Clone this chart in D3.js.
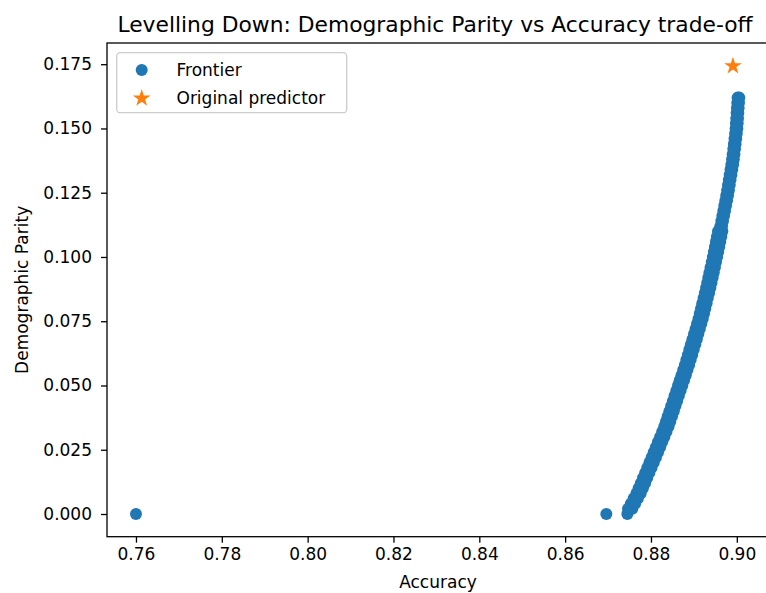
<!DOCTYPE html>
<html>
<head>
<meta charset="utf-8">
<script src="https://cdn.jsdelivr.net/npm/d3@7"></script>
<style>
  html, body { margin: 0; padding: 0; background: #fff; }
  svg { display: block; font-family: "DejaVu Sans", sans-serif; }
</style>
</head>
<body>
<svg id="chart" width="766" height="593"></svg>
<script>
// ---- Data ----
// Frontier: two isolated points, then the dense band read along its two edges.
const frontierAccuracy = [
  0.76000, 0.86960,
  0.87450, 0.87565, 0.87530, 0.87695, 0.87660, 0.87811, 0.87762, 0.87912, 0.87863, 0.88014,
  0.87965, 0.88115, 0.88064, 0.88213, 0.88162, 0.88312, 0.88261, 0.88410, 0.88350, 0.88490,
  0.88430, 0.88570, 0.88510, 0.88650, 0.88590, 0.88730, 0.88670, 0.88810, 0.88750, 0.88890,
  0.88825, 0.88961, 0.88896, 0.89032, 0.88967, 0.89103, 0.89038, 0.89173, 0.89107, 0.89237,
  0.89166, 0.89296, 0.89225, 0.89355, 0.89284, 0.89411, 0.89337, 0.89463, 0.89389, 0.89516,
  0.89442, 0.89567, 0.89491, 0.89615, 0.89538, 0.89662, 0.89616, 0.89679, 0.89663, 0.89726,
  0.89709, 0.89773, 0.89755, 0.89815, 0.89795, 0.89854, 0.89834, 0.89894, 0.89874, 0.89930,
  0.89904, 0.89958, 0.89932, 0.89986, 0.89960, 0.90012, 0.89980, 0.90028, 0.89995, 0.90043,
  0.90011, 0.90058,
  0.87465, 0.87630, 0.87595, 0.87760, 0.87711, 0.87862, 0.87812, 0.87963, 0.87914, 0.88065,
  0.88015, 0.88164, 0.88113, 0.88262, 0.88212, 0.88361, 0.88310, 0.88450, 0.88390, 0.88530,
  0.88470, 0.88610, 0.88550, 0.88690, 0.88630, 0.88770, 0.88710, 0.88850, 0.88790, 0.88925,
  0.88861, 0.88996, 0.88932, 0.89067, 0.89003, 0.89138, 0.89073, 0.89207, 0.89137, 0.89266,
  0.89196, 0.89325, 0.89255, 0.89384, 0.89311, 0.89437, 0.89363, 0.89489, 0.89416, 0.89542,
  0.89467, 0.89591, 0.89515, 0.89638, 0.89562, 0.89656, 0.89639, 0.89703, 0.89686, 0.89749,
  0.89733, 0.89795, 0.89775, 0.89835, 0.89814, 0.89874, 0.89854, 0.89914, 0.89890, 0.89944,
  0.89918, 0.89972, 0.89946, 0.90000, 0.89972, 0.90020, 0.89988, 0.90035, 0.90003, 0.90051,
  0.90018
];
const frontierParity = [
  0.000, 0.000,
  0.000, 0.002, 0.004, 0.006, 0.008, 0.010, 0.012, 0.014, 0.016, 0.018,
  0.020, 0.022, 0.024, 0.026, 0.028, 0.030, 0.032, 0.034, 0.036, 0.038,
  0.040, 0.042, 0.044, 0.046, 0.048, 0.050, 0.052, 0.054, 0.056, 0.058,
  0.060, 0.062, 0.064, 0.066, 0.068, 0.070, 0.072, 0.074, 0.076, 0.078,
  0.080, 0.082, 0.084, 0.086, 0.088, 0.090, 0.092, 0.094, 0.096, 0.098,
  0.100, 0.102, 0.104, 0.106, 0.108, 0.110, 0.112, 0.114, 0.116, 0.118,
  0.120, 0.122, 0.124, 0.126, 0.128, 0.130, 0.132, 0.134, 0.136, 0.138,
  0.140, 0.142, 0.144, 0.146, 0.148, 0.150, 0.152, 0.154, 0.156, 0.158,
  0.160, 0.162,
  0.002, 0.004, 0.006, 0.008, 0.010, 0.012, 0.014, 0.016, 0.018, 0.020,
  0.022, 0.024, 0.026, 0.028, 0.030, 0.032, 0.034, 0.036, 0.038, 0.040,
  0.042, 0.044, 0.046, 0.048, 0.050, 0.052, 0.054, 0.056, 0.058, 0.060,
  0.062, 0.064, 0.066, 0.068, 0.070, 0.072, 0.074, 0.076, 0.078, 0.080,
  0.082, 0.084, 0.086, 0.088, 0.090, 0.092, 0.094, 0.096, 0.098, 0.100,
  0.102, 0.104, 0.106, 0.108, 0.110, 0.112, 0.114, 0.116, 0.118, 0.120,
  0.122, 0.124, 0.126, 0.128, 0.130, 0.132, 0.134, 0.136, 0.138, 0.140,
  0.142, 0.144, 0.146, 0.148, 0.150, 0.152, 0.154, 0.156, 0.158, 0.160,
  0.162
];
const originalAccuracy = [0.8991];
const originalParity = [0.1743];

const xTicks = [0.76, 0.78, 0.80, 0.82, 0.84, 0.86, 0.88, 0.90];
const yTicks = [0.000, 0.025, 0.050, 0.075, 0.100, 0.125, 0.150, 0.175];

const seriesNames = ["Frontier", "Original predictor"];
const titleText = "Levelling Down: Demographic Parity vs Accuracy trade-off";
const xLabelText = "Accuracy";
const yLabelText = "Demographic Parity";

// ---- Layout ----
const BLUE = "#1f77b4", ORANGE = "#ff7f0e";
const mLeft = 107, mRight = 769, mTop = 43, mBottom = 536.7;
const FS = 17;

const svg = d3.select("#chart");
svg.append("rect").attr("width", 766).attr("height", 593).attr("fill", "#fff");

const x = d3.scaleLinear().domain([0.75325, 0.9075]).range([mLeft, mRight]);
const y = d3.scaleLinear().domain([-0.00883, 0.18325]).range([mBottom, mTop]);

const plot = svg.append("g");

// Frontier points
const frontier = frontierAccuracy.map((a, i) => ({ a, p: frontierParity[i] }));
plot.selectAll("circle.frontier").data(frontier).enter().append("circle")
  .attr("class", "frontier")
  .attr("cx", d => x(d.a)).attr("cy", d => y(d.p)).attr("r", 6)
  .attr("fill", BLUE);

// Original predictor star
const starPath = d3.symbol().type(d3.symbolStar).size(97)();
const orig = originalAccuracy.map((a, i) => ({ a, p: originalParity[i] }));
plot.selectAll("path.orig").data(orig).enter().append("path")
  .attr("class", "orig")
  .attr("d", starPath)
  .attr("transform", d => `translate(${x(d.a)},${y(d.p)})`)
  .attr("fill", ORANGE);

// Axes
const xAxis = d3.axisBottom(x).tickValues(xTicks).tickFormat(d3.format(".2f")).tickSize(6).tickPadding(5);
const yAxis = d3.axisLeft(y).tickValues(yTicks).tickFormat(d3.format(".3f")).tickSize(6).tickPadding(9);

const gx = svg.append("g").attr("transform", `translate(0,${mBottom})`).call(xAxis);
const gy = svg.append("g").attr("transform", `translate(${mLeft},0)`).call(yAxis);
[gx, gy].forEach(g => {
  g.select(".domain").remove();
  g.selectAll(".tick line").attr("stroke", "#000").attr("stroke-width", 1.3);
  g.selectAll(".tick text").attr("fill", "#000").attr("font-size", FS)
    .attr("font-family", "DejaVu Sans, sans-serif");
});

// Spines
svg.append("rect")
  .attr("x", mLeft).attr("y", mTop).attr("width", mRight - mLeft).attr("height", mBottom - mTop)
  .attr("fill", "none").attr("stroke", "#000").attr("stroke-width", 1.3);

// Title and labels
svg.append("text").attr("x", (mLeft + mRight) / 2 - 3).attr("y", 32.3)
  .attr("text-anchor", "middle").attr("font-size", 21.8).attr("fill", "#000").text(titleText);
svg.append("text").attr("x", (mLeft + mRight) / 2).attr("y", 588)
  .attr("text-anchor", "middle").attr("font-size", FS).attr("fill", "#000").text(xLabelText);
svg.append("text").attr("transform", `translate(27.5,${(mTop + mBottom) / 2}) rotate(-90)`)
  .attr("text-anchor", "middle").attr("font-size", FS).attr("fill", "#000").text(yLabelText);

// Legend
const lg = svg.append("g");
lg.append("rect").attr("x", 116.7).attr("y", 52.7).attr("width", 230).attr("height", 60)
  .attr("rx", 3.5).attr("fill", "#fff").attr("fill-opacity", 0.8)
  .attr("stroke", "#cccccc").attr("stroke-width", 1.3);
const legendY = [70, 98.3];
lg.append("circle").attr("cx", 141.7).attr("cy", legendY[0]).attr("r", 6).attr("fill", BLUE);
lg.append("path").attr("d", starPath).attr("transform", `translate(141.7,${legendY[1]})`).attr("fill", ORANGE);
seriesNames.forEach((n, i) => {
  lg.append("text").attr("x", 176.5).attr("y", legendY[i]).attr("dy", "0.36em")
    .attr("font-size", FS).attr("fill", "#000").text(n);
});
</script>
</body>
</html>
